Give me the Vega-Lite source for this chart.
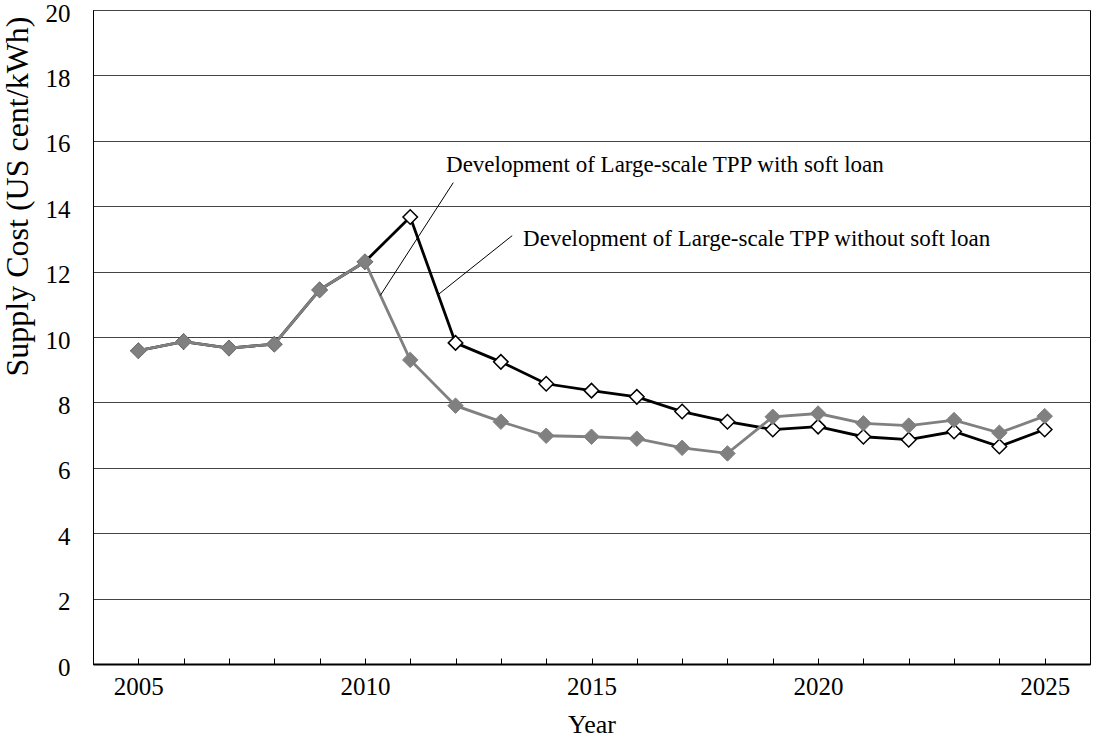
{
  "$schema": "https://vega.github.io/schema/vega-lite/v6.json",
  "width": 997,
  "height": 654,
  "autosize": "none",
  "padding": {"left": 93, "top": 10, "right": 4, "bottom": 76},
  "background": "white",
  "config": {
    "font": "Times New Roman",
    "view": {"stroke": "black", "strokeWidth": 1},
    "axis": {"labelFont": "Times New Roman", "titleFont": "Times New Roman", "labelColor": "black", "titleColor": "black", "titleFontWeight": "normal"},
    "text": {"font": "Times New Roman"},
    "style": {"guide-label": {"font": "Times New Roman"}, "guide-title": {"font": "Times New Roman"}}
  },
  "datasets": {
    "cost": [
      {"year": 2005, "series": "without soft loan", "value": 9.58},
      {"year": 2006, "series": "without soft loan", "value": 9.86},
      {"year": 2007, "series": "without soft loan", "value": 9.66},
      {"year": 2008, "series": "without soft loan", "value": 9.78},
      {"year": 2009, "series": "without soft loan", "value": 11.44},
      {"year": 2010, "series": "without soft loan", "value": 12.3},
      {"year": 2011, "series": "without soft loan", "value": 13.67},
      {"year": 2012, "series": "without soft loan", "value": 9.82},
      {"year": 2013, "series": "without soft loan", "value": 9.24},
      {"year": 2014, "series": "without soft loan", "value": 8.57},
      {"year": 2015, "series": "without soft loan", "value": 8.36},
      {"year": 2016, "series": "without soft loan", "value": 8.17},
      {"year": 2017, "series": "without soft loan", "value": 7.72},
      {"year": 2018, "series": "without soft loan", "value": 7.41},
      {"year": 2019, "series": "without soft loan", "value": 7.17},
      {"year": 2020, "series": "without soft loan", "value": 7.26},
      {"year": 2021, "series": "without soft loan", "value": 6.95},
      {"year": 2022, "series": "without soft loan", "value": 6.86},
      {"year": 2023, "series": "without soft loan", "value": 7.11},
      {"year": 2024, "series": "without soft loan", "value": 6.65},
      {"year": 2025, "series": "without soft loan", "value": 7.17},
      {"year": 2005, "series": "with soft loan", "value": 9.58},
      {"year": 2006, "series": "with soft loan", "value": 9.86},
      {"year": 2007, "series": "with soft loan", "value": 9.66},
      {"year": 2008, "series": "with soft loan", "value": 9.78},
      {"year": 2009, "series": "with soft loan", "value": 11.44},
      {"year": 2010, "series": "with soft loan", "value": 12.3},
      {"year": 2011, "series": "with soft loan", "value": 9.3},
      {"year": 2012, "series": "with soft loan", "value": 7.9},
      {"year": 2013, "series": "with soft loan", "value": 7.41},
      {"year": 2014, "series": "with soft loan", "value": 6.98},
      {"year": 2015, "series": "with soft loan", "value": 6.95},
      {"year": 2016, "series": "with soft loan", "value": 6.89},
      {"year": 2017, "series": "with soft loan", "value": 6.61},
      {"year": 2018, "series": "with soft loan", "value": 6.44},
      {"year": 2019, "series": "with soft loan", "value": 7.56},
      {"year": 2020, "series": "with soft loan", "value": 7.66},
      {"year": 2021, "series": "with soft loan", "value": 7.36},
      {"year": 2022, "series": "with soft loan", "value": 7.29},
      {"year": 2023, "series": "with soft loan", "value": 7.46},
      {"year": 2024, "series": "with soft loan", "value": 7.07},
      {"year": 2025, "series": "with soft loan", "value": 7.58}
    ],
    "labels": [
      {"x": 2011.79, "y": 15.25, "text": "Development of Large-scale TPP with soft loan"},
      {"x": 2013.49, "y": 13.0, "text": "Development of Large-scale TPP without soft loan"}
    ],
    "leaders": [
      {"x1": 2011.95, "y1": 14.72, "x2": 2010.34, "y2": 11.27},
      {"x1": 2013.25, "y1": 13.1, "x2": 2011.62, "y2": 11.3}
    ]
  },
  "layer": [
    {
      "data": {"name": "cost"},
      "transform": [{"filter": "datum.series == 'without soft loan'"}],
      "mark": {"type": "line", "color": "black", "strokeWidth": 2.8},
      "encoding": {
        "x": {
          "field": "year", "type": "quantitative",
          "scale": {"domain": [2004, 2026], "nice": false, "zero": false},
          "axis": {
            "title": "Year",
            "values": [2004, 2005, 2006, 2007, 2008, 2009, 2010, 2011, 2012, 2013, 2014, 2015, 2016, 2017, 2018, 2019, 2020, 2021, 2022, 2023, 2024, 2025, 2026],
            "labelExpr": "datum.value % 5 == 0 ? datum.value + '' : ''",
            "grid": false,
            "tickSize": -6,
            "tickColor": "black",
            "tickWidth": 1,
            "domainColor": "black",
            "domainWidth": 2,
            "labelFont": "Times New Roman",
            "labelFontSize": 25,
            "labelPadding": 16,
            "labelFlush": false,
            "labelOverlap": false,
            "titleFont": "Times New Roman",
            "titleFontSize": 26,
            "titlePadding": 12
          }
        },
        "y": {
          "field": "value", "type": "quantitative",
          "scale": {"domain": [0, 20], "nice": false},
          "axis": {
            "title": "Supply Cost  (US cent/kWh)",
            "values": [0, 2, 4, 6, 8, 10, 12, 14, 16, 18, 20],
            "ticks": false,
            "tickSize": 0,
            "grid": true,
            "gridColor": "#444444",
            "gridWidth": 1,
            "domainColor": "black",
            "domainWidth": 1,
            "labelFont": "Times New Roman",
            "labelFontSize": 25,
            "labelPadding": 23,
            "labelBaseline": "middle",
            "labelOffset": 3,
            "labelFlush": false,
            "labelOverlap": false,
            "titleFont": "Times New Roman",
            "titleFontSize": 32,
            "titleAngle": 270,
            "titleAlign": "center",
            "titleBaseline": "alphabetic",
            "titleX": -66,
            "titleY": 186
          }
        }
      }
    },
    {
      "data": {"name": "cost"},
      "transform": [{"filter": "datum.series == 'without soft loan'"}],
      "mark": {"type": "point", "shape": "diamond", "size": 210, "filled": true, "fill": "white", "stroke": "black", "strokeWidth": 1.5, "opacity": 1},
      "encoding": {
        "x": {"field": "year", "type": "quantitative", "title": "Year"},
        "y": {"field": "value", "type": "quantitative", "title": "Supply Cost  (US cent/kWh)"}
      }
    },
    {
      "data": {"name": "cost"},
      "transform": [{"filter": "datum.series == 'with soft loan'"}],
      "mark": {"type": "line", "color": "#808080", "strokeWidth": 2.8},
      "encoding": {
        "x": {"field": "year", "type": "quantitative", "title": "Year"},
        "y": {"field": "value", "type": "quantitative", "title": "Supply Cost  (US cent/kWh)"}
      }
    },
    {
      "data": {"name": "cost"},
      "transform": [{"filter": "datum.series == 'with soft loan'"}],
      "mark": {"type": "point", "shape": "diamond", "size": 240, "filled": true, "fill": "#808080", "stroke": "#808080", "strokeWidth": 1, "opacity": 1},
      "encoding": {
        "x": {"field": "year", "type": "quantitative", "title": "Year"},
        "y": {"field": "value", "type": "quantitative", "title": "Supply Cost  (US cent/kWh)"}
      }
    },
    {
      "data": {"name": "leaders"},
      "mark": {"type": "rule", "color": "black", "strokeWidth": 1},
      "encoding": {
        "x": {"field": "x1", "type": "quantitative", "title": "Year"},
        "y": {"field": "y1", "type": "quantitative", "title": "Supply Cost  (US cent/kWh)"},
        "x2": {"field": "x2"},
        "y2": {"field": "y2"}
      }
    },
    {
      "data": {"name": "labels"},
      "mark": {"type": "text", "align": "left", "baseline": "middle", "font": "Times New Roman", "fontSize": 23, "color": "black"},
      "encoding": {
        "x": {"field": "x", "type": "quantitative", "title": "Year"},
        "y": {"field": "y", "type": "quantitative", "title": "Supply Cost  (US cent/kWh)"},
        "text": {"field": "text"}
      }
    }
  ]
}
